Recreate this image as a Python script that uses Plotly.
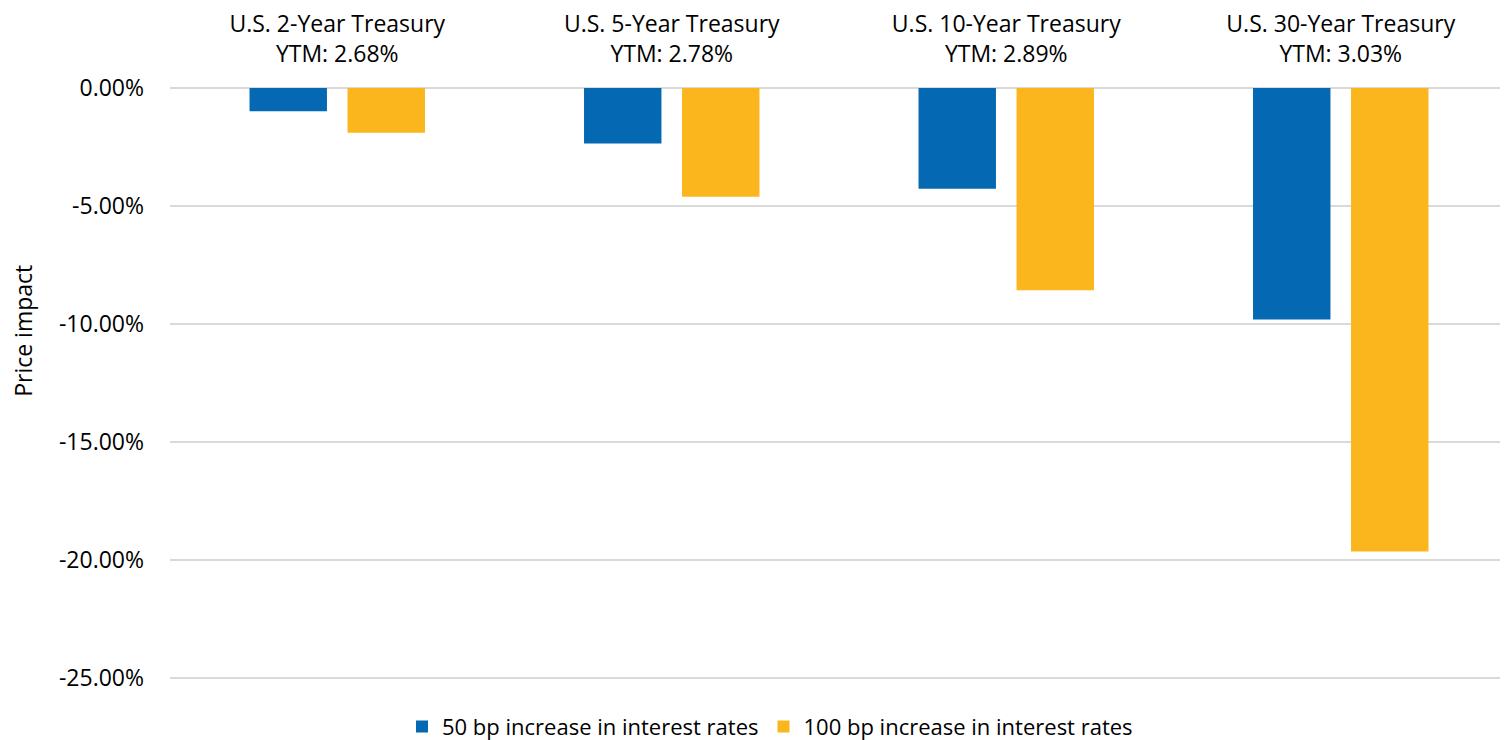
import plotly.graph_objects as go

categories = [
    "U.S. 2-Year Treasury<br>YTM: 2.68%",
    "U.S. 5-Year Treasury<br>YTM: 2.78%",
    "U.S. 10-Year Treasury<br>YTM: 2.89%",
    "U.S. 30-Year Treasury<br>YTM: 3.03%",
]
series_50bp = [-0.98, -2.35, -4.27, -9.81]
series_100bp = [-1.90, -4.61, -8.57, -19.64]
series_names = ["50 bp increase in interest rates", "100 bp increase in interest rates"]
y_tickvals = [0, -5, -10, -15, -20, -25]
y_ticktext = ["0.00%", "-5.00%", "-10.00%", "-15.00%", "-20.00%", "-25.00%"]
y_title = "Price impact"

FONT = "'Open Sans', Lato, sans-serif"
BLUE = "#0469B2"
ORANGE = "#FBB61E"

fig = go.Figure()
fig.add_trace(go.Bar(x=categories, y=series_50bp, name=series_names[0],
                     marker=dict(color=BLUE, line=dict(width=0))))
fig.add_trace(go.Bar(x=categories, y=series_100bp, name=series_names[1],
                     marker=dict(color=ORANGE, line=dict(width=0))))

# page body has an 8px default margin; figure sized to fit the window
fig.update_layout(
    width=1500, height=732,
    margin=dict(l=162, r=0, t=80, b=60, autoexpand=False),
    paper_bgcolor="white", plot_bgcolor="white",
    barmode="group", bargap=0.414, bargroupgap=0.21,
    font=dict(family=FONT, size=23, color="#000000"),
    showlegend=True,
    legend=dict(orientation="h", xref="container", yref="container",
                x=0.508, xanchor="center", y=0.018, yanchor="middle",
                font=dict(size=22, family=FONT), itemsizing="constant",
                traceorder="normal"),
    annotations=[dict(text=y_title, textangle=-90, xref="paper", yref="paper",
                      x=-0.11, y=0.5895, xanchor="center", yanchor="middle",
                      showarrow=False, font=dict(size=23, family=FONT))],
)
fig.update_xaxes(side="top", showgrid=False, showline=False, zeroline=False,
                 ticks="", ticklabelstandoff=20, automargin=False,
                 tickfont=dict(size=23, family=FONT))
fig.update_yaxes(range=[-25.08, 0], tickvals=y_tickvals, ticktext=y_ticktext,
                 showgrid=True, gridcolor="#D9D9D9", gridwidth=2,
                 zeroline=True, zerolinecolor="#D9D9D9", zerolinewidth=2,
                 showline=False, ticks="", automargin=False,
                 ticklabelstandoff=25,
                 tickfont=dict(size=23, family=FONT))

fig.write_html("out.html")
